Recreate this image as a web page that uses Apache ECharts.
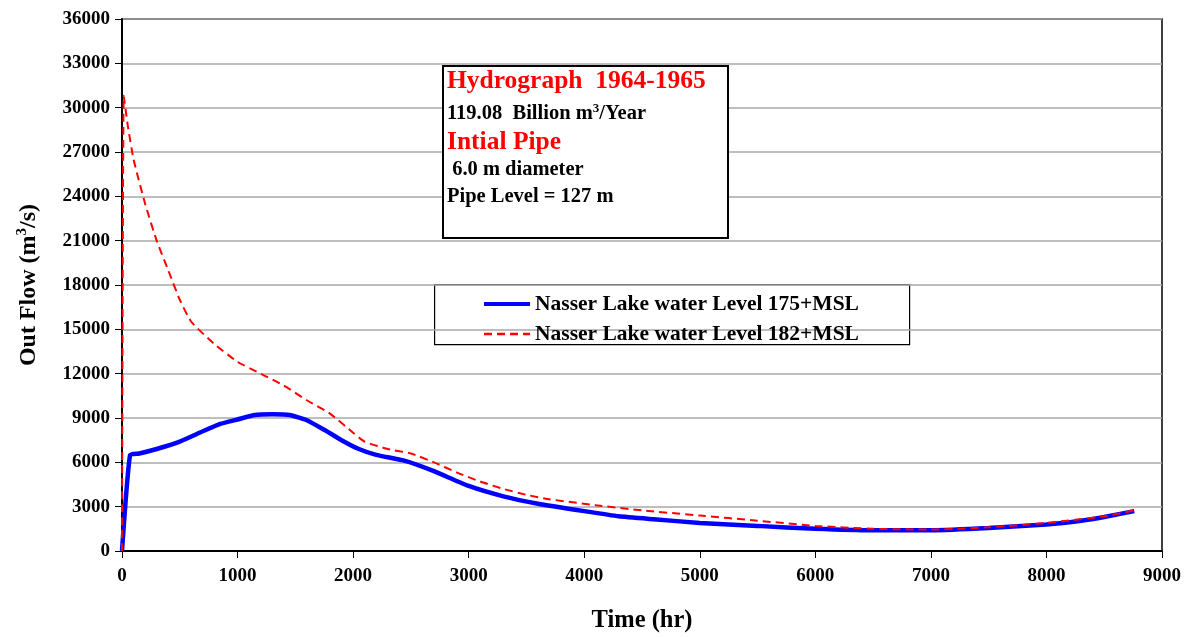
<!DOCTYPE html>
<html>
<head>
<meta charset="utf-8">
<script src="https://cdn.jsdelivr.net/npm/echarts@6/dist/echarts.min.js"></script>
<style>html,body{margin:0;padding:0;background:#fff}#c{width:1193px;height:637px}</style>
</head>
<body>
<div id="c"></div>
<script>
// Series: Nasser Lake water Level 175+MSL (blue, solid)
const timeBlue = [0, 70, 150, 300, 500, 700, 850, 1000, 1150, 1300, 1450, 1600, 1750, 1900, 2050, 2200, 2450, 2700, 3000, 3300, 3600, 4000, 4300, 4600, 5000, 5500, 6000, 6500, 7000, 7500, 8000, 8300, 8500, 8760];
const flowBlue = [0, 6500, 6600, 6900, 7400, 8100, 8600, 8900, 9200, 9250, 9200, 8850, 8200, 7500, 6900, 6500, 6100, 5400, 4400, 3700, 3200, 2700, 2350, 2150, 1900, 1700, 1500, 1400, 1400, 1550, 1800, 2050, 2300, 2700];
// Series: Nasser Lake water Level 182+MSL (red, dashed)
const timeRed = [0, 15, 50, 100, 200, 300, 400, 500, 600, 800, 1000, 1200, 1400, 1600, 1800, 2000, 2100, 2300, 2500, 2700, 2900, 3100, 3300, 3500, 3700, 4100, 4500, 5000, 5500, 6000, 6500, 7000, 7500, 8000, 8500, 8760];
const flowRed = [0, 30800, 28800, 26500, 23500, 21000, 19000, 17000, 15500, 14000, 12800, 12000, 11200, 10200, 9300, 8000, 7400, 6900, 6600, 6000, 5300, 4700, 4200, 3800, 3500, 3100, 2750, 2400, 2050, 1700, 1500, 1450, 1600, 1900, 2350, 2750];
const seriesNames = ['Nasser Lake water Level 175+MSL', 'Nasser Lake water Level 182+MSL'];
const infoLines = ['Hydrograph  1964-1965', '119.08  Billion m{sup|3}/Year', 'Intial Pipe', ' 6.0 m diameter', 'Pipe Level = 127 m'];

const F = '"Liberation Serif","Times New Roman",serif';
const pair = (t, f) => t.map((x, i) => [x, f[i]]);

const chart = echarts.init(document.getElementById('c'));
chart.setOption({
  animation: false,
  backgroundColor: '#fff',
  grid: { left: 122, right: 31, top: 19, bottom: 86, show: true, borderColor: '#000', borderWidth: 1.5, outerBoundsMode: 'none', containLabel: false },
  xAxis: {
    type: 'value', min: 0, max: 9000, interval: 1000,
    name: 'Time (hr)', nameLocation: 'middle', nameGap: 57,
    nameTextStyle: { fontFamily: F, fontWeight: 'bold', fontSize: 24.5, color: '#000' },
    axisLine: { show: true, lineStyle: { color: '#000', width: 2 } },
    axisTick: { show: true, length: 7, lineStyle: { color: '#000' } },
    axisLabel: { fontFamily: F, fontWeight: 'bold', fontSize: 19, color: '#000', margin: 16, formatter: v => String(v) },
    splitLine: { show: false }
  },
  yAxis: {
    type: 'value', min: 0, max: 36000, interval: 3000,
    name: 'Out Flow (m{sup|3}/s)', nameLocation: 'middle', nameGap: 80,
    nameTextStyle: { fontFamily: F, fontWeight: 'bold', fontSize: 24, color: '#000',
      rich: { sup: { fontFamily: F, fontWeight: 'bold', fontSize: 15, color: '#000', verticalAlign: 'top', padding: [0, 0, 12, 0] } } },
    axisLine: { show: true, lineStyle: { color: '#000', width: 2 } },
    axisTick: { show: true, length: 7, lineStyle: { color: '#000' } },
    axisLabel: { fontFamily: F, fontWeight: 'bold', fontSize: 19, color: '#000', margin: 12, formatter: v => String(v) },
    splitLine: { show: true, lineStyle: { color: '#a8a8a8', width: 1.5 } }
  },
  legend: {
    left: 477, top: 288, orient: 'vertical', itemGap: 8,
    itemWidth: 46, itemHeight: 14,
    itemStyle: { opacity: 0 },
    textStyle: { fontFamily: F, fontWeight: 'bold', fontSize: 21.5, color: '#000' },
    data: [
      { name: seriesNames[0], lineStyle: { width: 4 } },
      { name: seriesNames[1], lineStyle: { width: 2.5 } }
    ]
  },
  graphic: [
    { type: 'rect', left: 434, top: 284, z: 0, shape: { width: 475, height: 60 }, style: { fill: '#fff', stroke: '#000', lineWidth: 1.2 } },
    { type: 'rect', left: 442, top: 65, z: 10, shape: { width: 285, height: 172 }, style: { fill: '#fff', stroke: '#000', lineWidth: 2 } },
    { type: 'text', left: 447, top: 68, z: 11, style: { text: infoLines[0], fill: '#ff0000', font: 'bold 25.5px ' + F } },
    { type: 'text', left: 447, top: 102, z: 11, style: { text: infoLines[1], fill: '#000', font: 'bold 20.5px ' + F,
      rich: { sup: { fontSize: 13, fontWeight: 'bold', fontFamily: F, fill: '#000', verticalAlign: 'top', padding: [0, 0, 10, 0] } } } },
    { type: 'text', left: 447, top: 129, z: 11, style: { text: infoLines[2], fill: '#ff0000', font: 'bold 25.5px ' + F } },
    { type: 'text', left: 447, top: 159, z: 11, style: { text: infoLines[3], fill: '#000', font: 'bold 20.5px ' + F } },
    { type: 'text', left: 447, top: 186, z: 11, style: { text: infoLines[4], fill: '#000', font: 'bold 20.5px ' + F } }
  ],
  series: [
    { name: seriesNames[0], type: 'line', data: pair(timeBlue, flowBlue), symbol: 'none', smooth: 0.15,
      color: '#0000ff', lineStyle: { color: '#0000ff', width: 4.5 }, z: 3 },
    { name: seriesNames[1], type: 'line', data: pair(timeRed, flowRed), symbol: 'none', smooth: 0.15,
      color: '#ff0000', lineStyle: { color: '#ff0000', width: 2, type: [8, 5] }, z: 4 }
  ]
});
</script>
</body>
</html>
